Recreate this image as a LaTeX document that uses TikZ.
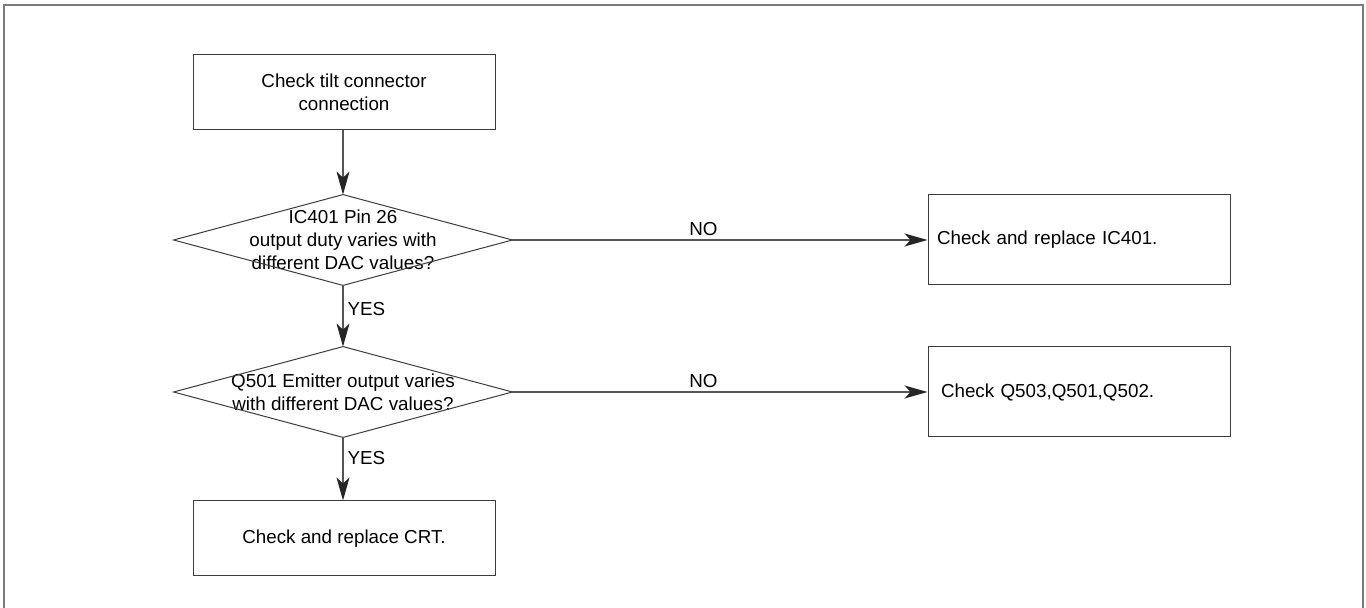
\documentclass[tikz,border=0pt]{standalone}
\usepackage{fontspec}
\setmainfont{Liberation Sans}
\usepackage{tikz}
\usetikzlibrary{arrows.meta,calc,positioning}
\definecolor{framegray}{HTML}{7A7A7A}
\definecolor{linegray}{HTML}{555555}
\definecolor{boxgray}{HTML}{3C3C3C}
\tikzset{
  flowline/.style={linegray, -{Stealth[length=11.5pt, width=6.5pt, inset=3pt, color=black!85]}, line width=0.55pt},
  plainline/.style={boxgray, line width=0.5pt},
  stepbox/.style={draw=boxgray, line width=0.5pt, minimum width=151pt, minimum height=37.5pt, align=center, inner sep=0pt},
  leftbox/.style={draw=boxgray, line width=0.5pt, minimum width=151pt, minimum height=45pt, text width=142pt, align=left, inner sep=4.5pt},
  decision/.style={minimum width=169pt, minimum height=45pt, align=center, inner sep=0pt},
  branchlabel/.style={text=black, inner sep=2pt}
}
\begin{document}
\begin{tikzpicture}[x=0.5pt, y=-0.5pt, font=\fontsize{9.4}{11.5}\selectfont]
  \useasboundingbox (0,0) rectangle (1366,608);
  \draw[framegray, line width=1pt] (4,608) -- (4,5) -- (1363,5) -- (1363,608);
  \node[stepbox] (tilt) at (344,92.5) {Check tilt connector\\connection};
  \node[decision] (pin26) at (343,240) {IC401 Pin 26\\output duty varies with\\different DAC values?};
  \node[decision] (emitter) at (343,392) {Q501 Emitter output varies\\with different DAC values?};
  \node[stepbox] (crt) at (344,538.5) {Check and replace CRT.};
  \node[leftbox] (ic401) at (1079,240) {Check and replace IC401.};
  \node[leftbox] (transistors) at (1079,392) {\hspace{2pt}Check Q503,Q501,Q502.};
  \foreach \d in {pin26,emitter}
    \draw[plainline] (\d.north) -- (\d.east) -- (\d.south) -- (\d.west) -- cycle;
  \draw[flowline] (tilt.south -| pin26.north) -- (pin26.north);
  \draw[flowline] (pin26.south) -- node[branchlabel, right, pos=0.38] {YES} (emitter.north);
  \draw[flowline] (emitter.south) -- node[branchlabel, right, pos=0.33] {YES} (crt.north -| emitter.south);
  \draw[flowline] (pin26.east) -- node[branchlabel, above, pos=0.46] {NO} (ic401);
  \draw[flowline] (emitter.east) -- node[branchlabel, above, pos=0.46] {NO} (transistors);
\end{tikzpicture}
\end{document}
